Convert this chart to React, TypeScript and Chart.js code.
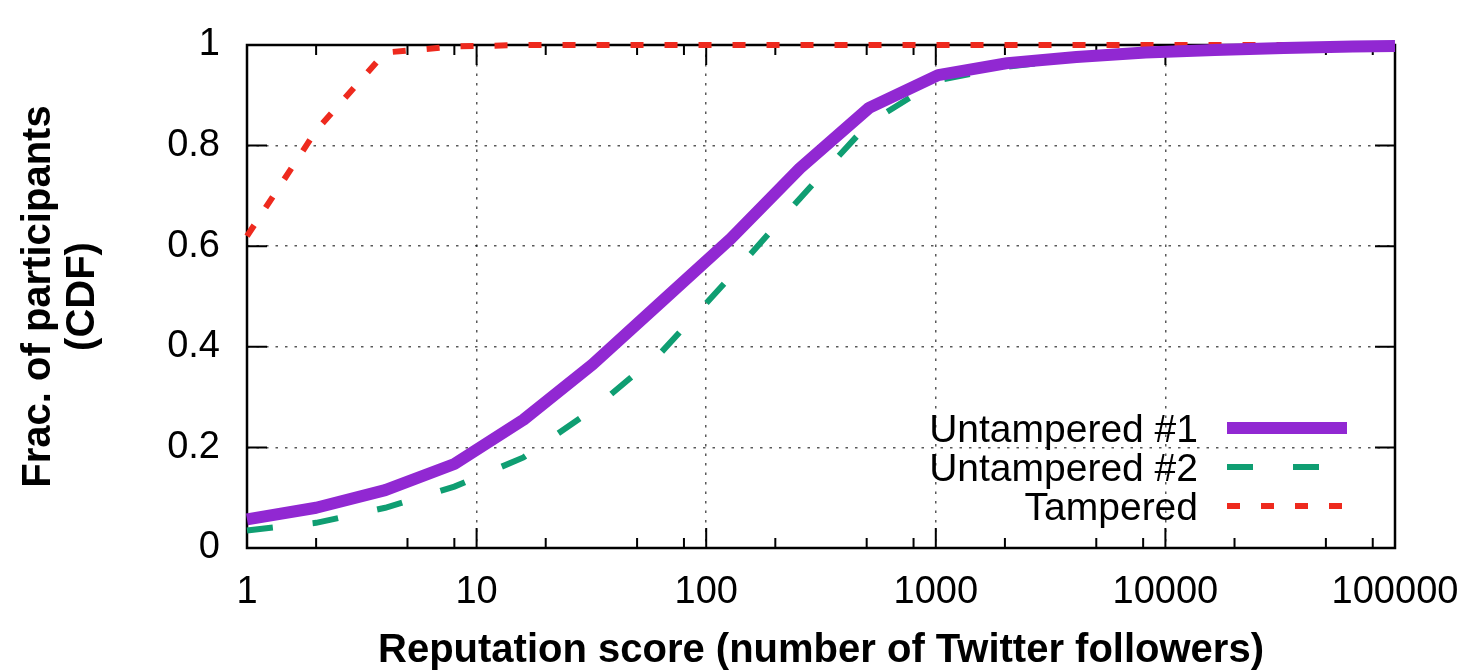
import React, { useEffect, useRef } from 'react';
import { Chart, registerables } from 'chart.js';

Chart.register(...registerables);

// ---- data ----
const followers = [1, 2, 4, 8, 16, 32, 64, 128, 256, 512, 1024, 2048, 4096, 8192, 16384, 32768, 65536, 100000];
const untampered1 = [0.057, 0.08, 0.115, 0.167, 0.255, 0.365, 0.49, 0.615, 0.755, 0.875, 0.94, 0.964, 0.976, 0.985, 0.99, 0.994, 0.997, 0.998];
const untampered2 = [0.035, 0.05, 0.08, 0.122, 0.18, 0.275, 0.39, 0.54, 0.695, 0.845, 0.93, 0.957, 0.972, 0.983, 0.988, 0.992, 0.995, 0.997];
const tampered = [0.62, 0.83, 0.985, 0.997, 1, 1, 1, 1, 1, 1, 1, 1, 1, 1, 1, 1, 1, 1];
const seriesLabels = ['Untampered #1', 'Untampered #2', 'Tampered'];
const xTickValues = [1, 10, 100, 1000, 10000, 100000];
const xMinorMultipliers = [2, 5, 8];
const yTickValues = [0, 0.2, 0.4, 0.6, 0.8, 1];
const xTitle = 'Reputation score (number of Twitter followers)';
const yTitle = ['Frac. of participants', '(CDF)'];

const FONT = "'Liberation Sans', Arial, Helvetica, sans-serif";

const toPoints = (ys: number[]) => followers.map((x, i) => ({ x, y: ys[i] }));

const framePlugin = {
  id: 'gnuplotFrame',
  beforeDatasetsDraw(chart: any) {
    const { ctx, chartArea: a, scales } = chart;
    const xs = scales.x;
    const ys = scales.y;
    ctx.save();
    ctx.strokeStyle = '#000';
    ctx.lineWidth = 2;
    ctx.setLineDash([]);
    ctx.beginPath();
    xTickValues.forEach((v) => {
      const px = xs.getPixelForValue(v);
      if (v !== xTickValues[0] && v !== xTickValues[xTickValues.length - 1]) {
        ctx.moveTo(px, a.bottom); ctx.lineTo(px, a.bottom - 20);
        ctx.moveTo(px, a.top); ctx.lineTo(px, a.top + 20);
      }
      if (v < xTickValues[xTickValues.length - 1]) {
        xMinorMultipliers.forEach((m) => {
          const mp = xs.getPixelForValue(v * m);
          ctx.moveTo(mp, a.bottom); ctx.lineTo(mp, a.bottom - 10);
          ctx.moveTo(mp, a.top); ctx.lineTo(mp, a.top + 10);
        });
      }
    });
    yTickValues.forEach((v) => {
      if (v === 0 || v === 1) return;
      const py = ys.getPixelForValue(v);
      ctx.moveTo(a.left, py); ctx.lineTo(a.left + 20, py);
      ctx.moveTo(a.right, py); ctx.lineTo(a.right - 20, py);
    });
    ctx.stroke();
    ctx.lineWidth = 2.5;
    ctx.strokeRect(a.left, a.top, a.right - a.left, a.bottom - a.top);
    ctx.restore();
  },
};

const legendPlugin = {
  id: 'insideLegend',
  afterDatasetsDraw(chart: any) {
    const { ctx, chartArea: a } = chart;
    const baselines = [a.bottom - 106, a.bottom - 67, a.bottom - 28];
    ctx.save();
    ctx.font = `39px ${FONT}`;
    ctx.fillStyle = '#000';
    ctx.textAlign = 'right';
    ctx.textBaseline = 'alphabetic';
    chart.data.datasets.forEach((ds: any, i: number) => {
      const by = baselines[i];
      ctx.fillText(ds.label, a.right - 197, by);
      const ly = by - 14;
      ctx.beginPath();
      ctx.strokeStyle = ds.borderColor;
      ctx.lineWidth = ds.borderWidth;
      ctx.setLineDash(ds.borderDash || []);
      ctx.lineCap = 'butt';
      ctx.moveTo(a.right - 168, ly);
      ctx.lineTo(a.right - 48, ly);
      ctx.stroke();
    });
    ctx.restore();
  },
};

export default function App() {
  const ref = useRef<HTMLCanvasElement | null>(null);
  useEffect(() => {
    document.body.style.margin = '0';
    if (!ref.current) return;
    Chart.defaults.font.family = FONT;
    Chart.defaults.color = '#000';
    const gridColor = (ctx: any) => {
      const v = ctx.tick ? ctx.tick.value : null;
      if (v === null) return 'transparent';
      if (ctx.scale.axis === 'x') {
        return v === xTickValues[0] || v === xTickValues[xTickValues.length - 1] ? 'transparent' : 'rgba(0,0,0,0.65)';
      }
      return v === 0 || v === 1 ? 'transparent' : 'rgba(0,0,0,0.65)';
    };
    const chart = new Chart(ref.current, {
      type: 'line',
      data: {
        datasets: [
          {
            label: seriesLabels[0],
            data: toPoints(untampered1),
            borderColor: '#9128d2',
            borderWidth: 12,
            pointRadius: 0,
            tension: 0,
            borderJoinStyle: 'round',
            clip: false,
          },
          {
            label: seriesLabels[1],
            data: toPoints(untampered2),
            borderColor: '#0f9e72',
            borderWidth: 6,
            borderDash: [26, 40],
            pointRadius: 0,
            tension: 0,
            clip: false,
          },
          {
            label: seriesLabels[2],
            data: toPoints(tampered),
            borderColor: '#ee2a1e',
            borderWidth: 6,
            borderDash: [13, 21],
            pointRadius: 0,
            tension: 0,
            clip: false,
          },
        ],
      },
      options: {
        animation: false,
        responsive: false,
        layout: { padding: { top: 45, right: 76, left: 0, bottom: 0 } },
        plugins: { legend: { display: false }, tooltip: { enabled: false } },
        scales: {
          x: {
            type: 'logarithmic',
            min: 1,
            max: 100000,
            afterBuildTicks: (scale: any) => {
              scale.ticks = xTickValues.map((v) => ({ value: v, major: true }));
            },
            afterFit: (scale: any) => {
              scale.height = 123;
              scale.paddingLeft = 0;
              scale.paddingRight = 0;
            },
            ticks: {
              autoSkip: false,
              maxRotation: 0,
              padding: 22,
              font: { size: 38 },
              callback: (v: any) => String(v),
            },
            grid: { color: gridColor, lineWidth: 1.5, drawTicks: false },
            border: { display: false, dash: [2.5, 7] },
            title: {
              display: true,
              text: xTitle,
              font: { size: 40, weight: 'bold', lineHeight: 1 },
              padding: 0,
            },
          },
          y: {
            type: 'linear',
            min: 0,
            max: 1,
            afterBuildTicks: (scale: any) => {
              scale.ticks = yTickValues.map((v) => ({ value: v }));
            },
            afterFit: (scale: any) => {
              scale.width = 247;
              scale.paddingTop = 0;
              scale.paddingBottom = 0;
            },
            ticks: {
              padding: 27,
              font: { size: 38 },
              callback: (v: any) => String(Math.round(Number(v) * 10) / 10),
            },
            grid: { color: gridColor, lineWidth: 1.5, drawTicks: false },
            border: { display: false, dash: [2.5, 7] },
            title: {
              display: true,
              text: yTitle,
              font: { size: 40, weight: 'bold', lineHeight: 1.1 },
              padding: { top: 17, bottom: 0 },
            },
          },
        },
      },
      plugins: [framePlugin, legendPlugin],
    } as any);
    return () => chart.destroy();
  }, []);
  return (
    <div style={{ position: 'absolute', left: 0, top: 0, width: 1471, height: 671 }}>
      <canvas ref={ref} width={1471} height={671} />
    </div>
  );
}
